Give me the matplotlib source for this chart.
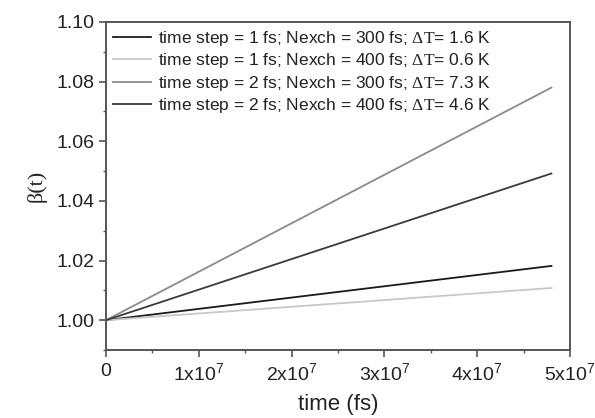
import matplotlib
matplotlib.use("Agg")
import matplotlib.pyplot as plt
from matplotlib.ticker import MultipleLocator, FuncFormatter

plt.rcParams['font.family'] = ['Liberation Sans', 'DejaVu Sans']
plt.rcParams['mathtext.fontset'] = 'custom'
plt.rcParams['mathtext.rm'] = 'Liberation Serif'
plt.rcParams['mathtext.sf'] = 'Liberation Sans'

time_fs = [0, 2.4e7, 4.8e7]
beta_1fs_300 = [1.000, 1.0091, 1.0182]
beta_1fs_400 = [1.000, 1.0054, 1.0108]
beta_2fs_300 = [1.000, 1.0390, 1.0780]
beta_2fs_400 = [1.000, 1.0246, 1.0492]

labels = [
    r"time step = 1 fs; Nexch = 300 fs; $\mathrm{\Delta T}$= 1.6 K",
    r"time step = 1 fs; Nexch = 400 fs; $\mathrm{\Delta T}$= 0.6 K",
    r"time step = 2 fs; Nexch = 300 fs; $\mathrm{\Delta T}$= 7.3 K",
    r"time step = 2 fs; Nexch = 400 fs; $\mathrm{\Delta T}$= 4.6 K",
]
series = [beta_1fs_300, beta_1fs_400, beta_2fs_300, beta_2fs_400]
colors = ['#1a1a1a', '#c8c8c8', '#8a8a8a', '#3a3a3a']

fig = plt.figure(figsize=(5.95, 4.18), dpi=100)
ax = fig.add_axes([106/595, 1-350/418, 464/595, 328/418])

for y, c, lab in zip(series, colors, labels):
    ax.plot(time_fs, y, color=c, lw=1.3, label=lab)

ax.set_xlim(0, 5e7)
ax.set_ylim(0.99, 1.10)
ax.xaxis.set_major_locator(MultipleLocator(1e7))
ax.xaxis.set_minor_locator(MultipleLocator(5e6))
ax.yaxis.set_major_locator(MultipleLocator(0.02))
ax.yaxis.set_minor_locator(MultipleLocator(0.01))

def xfmt(v, pos):
    n = int(round(v / 1e7))
    if n == 0:
        return "0"
    return r"%dx10$^{\mathsf{7}}$" % n
ax.xaxis.set_major_formatter(FuncFormatter(xfmt))
ax.yaxis.set_major_formatter(FuncFormatter(lambda v, p: "%.2f" % v))

for s in ax.spines.values():
    s.set_color('#555555')
    s.set_linewidth(1.4)
ax.tick_params(axis='both', which='major', direction='out', length=5, width=1.2,
               color='#555555', labelsize=14, labelcolor='#222222', pad=3)
ax.tick_params(axis='x', which='major', pad=4)
ax.tick_params(axis='both', which='minor', direction='out', length=2.5, width=1.0,
               color='#555555')

ax.set_xlabel("time (fs)", fontsize=16, color='#222222', labelpad=6.5)
ax.set_ylabel(r"β(t)", fontsize=16, color='#222222', family=['Liberation Serif'], labelpad=7)

leg = ax.legend(loc='upper left', frameon=False, fontsize=12.5, handlelength=2.2,
                handletextpad=0.4, labelspacing=0.2, borderaxespad=0.2,
                borderpad=0.2)
for t in leg.get_texts():
    t.set_color('#222222')

fig.savefig("out.png", dpi=100)
